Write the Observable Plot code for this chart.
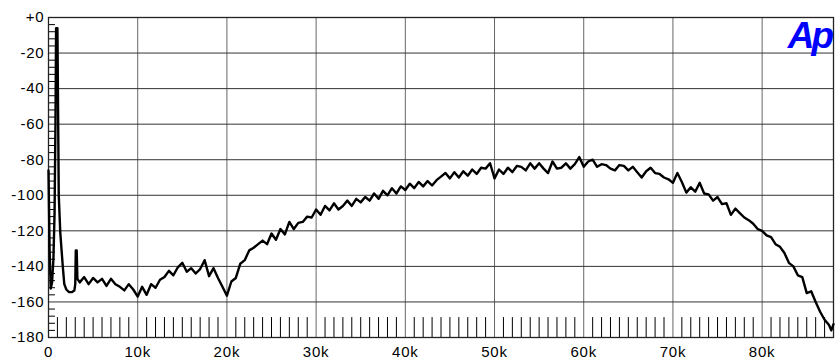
<!DOCTYPE html>
<html>
<head>
<meta charset="utf-8">
<script src="https://cdn.jsdelivr.net/npm/d3@7"></script>
<script src="https://cdn.jsdelivr.net/npm/@observablehq/plot@0.6"></script>
<style>
  html, body { margin: 0; padding: 0; background: #fff; }
  #chart { position: relative; width: 838px; height: 361px; }
</style>
</head>
<body>
<div id="chart"></div>
<script>
// Low-frequency part (kHz, dBr): DC, fundamental spike, 3rd harmonic
const lowFreqK = [0, 0.12, 0.25, 0.4, 0.55, 0.68, 0.78, 0.85, 0.92, 1.0, 1.07, 1.15, 1.32, 1.6, 1.77, 2.0, 2.3, 2.6, 2.9, 3.0, 3.06, 3.16, 3.24];
const lowLevel = [-86, -130, -152.5, -149, -136, -110, -60, -6, -6, -6, -50, -100, -121, -140, -150, -153, -154.5, -154.5, -153.5, -150, -131, -131, -147];

// Noise band, read every 0.5 kHz from 3.5 kHz to 87.5 kHz
const bandStartK = 3.5;
const bandStepK = 0.5;
const bandLevel = [
  -149, -146, -150, -146.5, -149, -147, -151, -147, -150, -151.5,
  -153.5, -150, -153, -157, -151.5, -156, -150, -152, -147.5, -146,
  -142.5, -145, -140.5, -138, -143, -141, -144, -141.5, -136.5, -145.5,
  -141, -146.5, -151.5, -156.5, -148.5, -146.5, -138.5, -136.5, -131, -129.5,
  -127.5, -125.5, -127.5, -121.5, -125, -119, -122, -115, -119, -115.5,
  -115, -112, -112.5, -108, -111, -106, -108.5, -104.5, -108, -106,
  -103, -106, -102, -104, -101, -103, -99, -102, -97.5, -100,
  -96, -99, -95, -97, -93.5, -96, -92.5, -95, -92, -94.5,
  -91.5, -89.5, -87.5, -90.5, -87, -90, -86.5, -89, -85.5, -88,
  -84.5, -85, -82, -90.5, -85.5, -88, -84.5, -87, -83.5, -84,
  -86, -82, -85, -82, -85, -87.5, -81, -85, -84.5, -82,
  -85, -82.5, -78.5, -84, -81, -80, -84, -82.5, -83, -85,
  -86, -83, -83.5, -86, -84, -87, -90, -86.5, -84.5, -87.5,
  -88, -90, -91, -93, -87.5, -92.5, -98.5, -95.5, -98, -93,
  -99, -99.5, -103, -101, -105, -104.5, -111, -107.5, -110, -112.5,
  -114, -116, -119, -120, -122.5, -123.5, -127.5, -129, -132.5, -138,
  -140, -145, -146, -155, -154, -160, -165.5, -170, -173
];

// Tail at the right edge
const tailFreqK = [87.75, 88.0];
const tailLevel = [-176, -172.5];

// Axis ticks
const yTicks = [0, -20, -40, -60, -80, -100, -120, -140, -160, -180];
const xTicks = [0, 10000, 20000, 30000, 40000, 50000, 60000, 70000, 80000];
const xMinorTicks = d3.range(1000, 88000, 1000).filter(d => d % 10000 !== 0);
const yMinorTicks = d3.range(-176, 0, 4).filter(d => d % 20 !== 0);

const data = [];
lowFreqK.forEach((f, i) => data.push({f: f * 1000, db: lowLevel[i]}));
bandLevel.forEach((v, i) => data.push({f: (bandStartK + i * bandStepK) * 1000, db: v}));
tailFreqK.forEach((f, i) => data.push({f: f * 1000, db: tailLevel[i]}));

const font = "'Liberation Sans', Arial, Helvetica, sans-serif";

const chart = Plot.plot({
  width: 838,
  height: 361,
  marginLeft: 48,
  marginRight: 5,
  marginTop: 17,
  marginBottom: 24,
  style: {fontFamily: font, fontSize: "15px", color: "#000", background: "#fff", overflow: "visible", letterSpacing: "0.8px"},
  x: {domain: [0, 88000], label: null},
  y: {domain: [-180, 0], label: null},
  marks: [
    Plot.ruleX(xMinorTicks, {x: d => d, y1: -180, y2: -168.8, stroke: "#000", strokeWidth: 1}),
    Plot.ruleY(yMinorTicks, {y: d => d, x1: 0, x2: 780, stroke: "#000", strokeWidth: 1}),
    Plot.ruleX(xTicks, {x: d => d, stroke: "#666", strokeWidth: 1}),
    Plot.ruleY(yTicks, {y: d => d, stroke: "#333", strokeWidth: 1}),
    Plot.frame({stroke: "#222", strokeWidth: 1.3}),
    Plot.line(data, {x: "f", y: "db", stroke: "#000", strokeWidth: 2.4}),
    Plot.axisY({ticks: yTicks, tickSize: 0, tickPadding: 4, tickFormat: d => d === 0 ? "+0" : String(d), fontSize: 15}),
    Plot.axisX({ticks: xTicks, tickSize: 0, tickPadding: 9, tickFormat: d => d === 0 ? "0" : (d / 1000) + "k", fontSize: 15})
  ]
});

d3.select(chart).append("text")
  .attr("x", 831)
  .attr("y", 48)
  .attr("text-anchor", "end")
  .attr("fill", "#0000ff")
  .attr("font-family", font)
  .attr("font-weight", "bold")
  .attr("font-style", "italic")
  .attr("font-size", 37)
  .attr("letter-spacing", -3)
  .text("Ap");

document.getElementById("chart").appendChild(chart);
</script>
</body>
</html>
